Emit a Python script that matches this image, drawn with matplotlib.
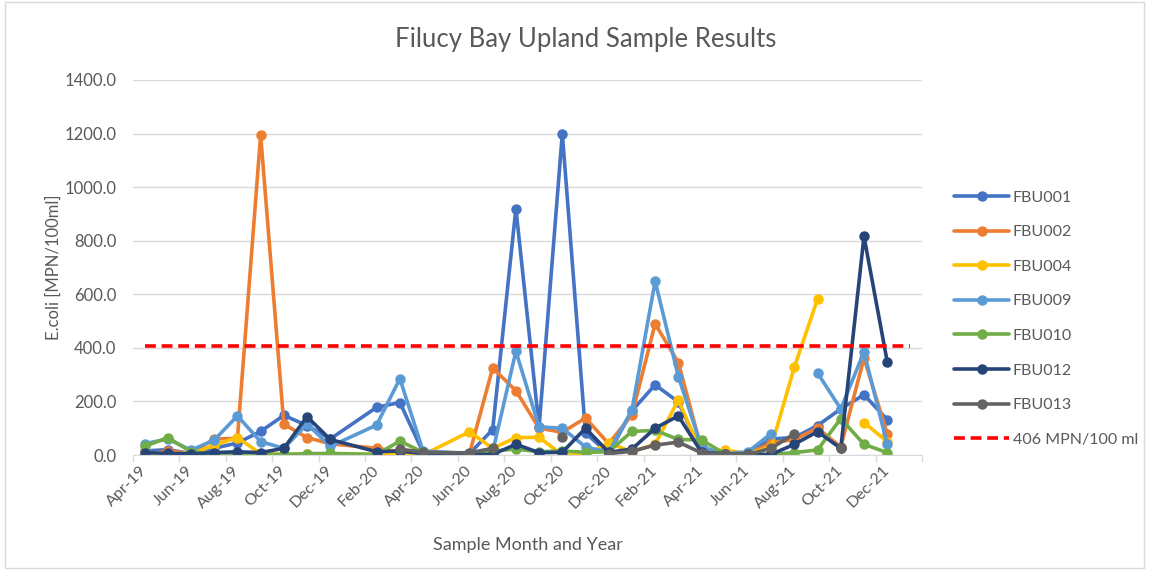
import matplotlib
matplotlib.use("Agg")
import matplotlib.pyplot as plt
import matplotlib.transforms as mtransforms
import numpy as np
import pandas as pd
from matplotlib.patches import Rectangle

nan = np.nan

# sampled months (Jan-20 and May-20 had no samples)
months = ["Apr-19", "May-19", "Jun-19", "Jul-19", "Aug-19", "Sep-19", "Oct-19", "Nov-19", "Dec-19",
          "Feb-20", "Mar-20", "Apr-20",
          "Jun-20", "Jul-20", "Aug-20", "Sep-20", "Oct-20", "Nov-20", "Dec-20",
          "Jan-21", "Feb-21", "Mar-21", "Apr-21", "May-21", "Jun-21", "Jul-21", "Aug-21",
          "Sep-21", "Oct-21", "Nov-21", "Dec-21"]

fbu001 = [15, 20, 5, 25, 45, 88, 148, 110, 60,
          178, 196, 10,
          5, 95, 920, 105, 1200, 82, 5,
          165, 262, 198, 8, 5, 5, 60, 65, 110, 172, 225, 132]
fbu002 = [0, 15, 5, 60, 62, 1195, 115, 65, 42,
          25, 12, 5,
          5, 325, 240, 100, 85, 138, 42,
          150, 490, 345, 20, 10, 5, 45, 58, 100, 30, 362, 80]
fbu004 = [10, 5, 3, 37, 65, 5, 3, 3, 3,
          3, 5, 0,
          87, 25, 65, 66, 0, 0, 45,
          12, 40, 206, 5, 19, 5, 30, 328, 583, nan, 121, 50]
fbu009 = [42, 60, 18, 56, 146, 50, 25, 116, 32,
          112, 285, 15,
          5, 12, 387, 105, 100, 30, 10,
          168, 649, 293, 30, 5, 12, 80, nan, 306, 172, 385, 40]
fbu010 = [32, 65, 12, 5, 5, 2, 2, 5, 6,
          2, 52, 10,
          5, 15, 22, 12, 15, 10, 12,
          88, 92, 58, 56, 5, 2, 2, 9, 19, 136, 40, 9]
fbu012 = [9, 6, 4, 9, 12, 9, 25, 143, 58,
          12, 15, 5,
          2, 2, 40, 9, 10, 100, 10,
          22, 100, 146, 10, 5, 2, 2, 40, 87, 25, 816, 349]
fbu013 = [nan, nan, nan, nan, nan, nan, nan, nan, nan,
          nan, 22, 10,
          8, 25, nan, nan, 66, nan, 5,
          14, 37, 48, 8, 5, 2, 25, 79, nan, 25, nan, nan]

series = [("FBU001", fbu001, "#4472C4"),
          ("FBU002", fbu002, "#ED7D31"),
          ("FBU004", fbu004, "#FFC000"),
          ("FBU009", fbu009, "#5B9BD5"),
          ("FBU010", fbu010, "#70AD47"),
          ("FBU012", fbu012, "#264478"),
          ("FBU013", fbu013, "#636363")]

limit = 406
axis_start = "Apr-19"
axis_end = "Jan-22"

def month_pos(labels):
    d = pd.to_datetime(labels, format="%b-%y")
    return (d.year - 2019) * 12 + d.month - 4

x = month_pos(months)
x_end = month_pos([axis_end])[0]
all_months = pd.date_range(pd.to_datetime(axis_start, format="%b-%y"),
                           pd.to_datetime(axis_end, format="%b-%y"), freq="MS")
all_labels = [d.strftime("%b-%y") for d in all_months]

plt.rcParams['font.family'] = ['Lato', 'DejaVu Sans']
grey = "#595959"

fig = plt.figure(figsize=(11.49, 5.71), dpi=100)
ax = fig.add_axes([133/1149, 1 - 455/571, 789/1149, 375/571])

for name, vals, col in series:
    ax.plot(x, vals, color=col, lw=2.6, marker="o", ms=6.5, label=name,
            solid_capstyle="round", solid_joinstyle="round")

ax.plot([0, x_end], [limit, limit], color="#FF0000", lw=2.6, dashes=(3, 1.6),
        label="406 MPN/100 ml")

ax.set_ylim(0, 1400)
ax.set_xlim(-0.5, x_end + 0.5)
ax.set_yticks(np.arange(0, 1401, 200))
ax.set_yticklabels([f"{v:.1f}" for v in np.arange(0, 1401, 200)])
ax.grid(axis="y", color="#D9D9D9", lw=1)
ax.set_axisbelow(True)

ax.set_xticks(np.arange(0, x_end + 1, 2))
ax.set_xticklabels(all_labels[::2], rotation=45, ha="right", va="top",
                   rotation_mode="anchor")
ax.set_xticks(np.arange(-0.5, x_end + 1, 2), minor=True)
ax.tick_params(axis="x", which="major", length=0, pad=6, labelsize=11.5, labelcolor=grey)
ax.tick_params(axis="x", which="minor", length=5, color="#D9D9D9", width=1)
ax.tick_params(axis="y", length=0, pad=12, labelsize=12, labelcolor=grey)

shift = mtransforms.ScaledTranslation(-5/100, 0, fig.dpi_scale_trans)
for lab in ax.get_xticklabels():
    lab.set_transform(lab.get_transform() + shift)

for s in ["top", "right", "left"]:
    ax.spines[s].set_visible(False)
ax.spines["bottom"].set_color("#D9D9D9")

ax.set_ylabel("E.coli [MPN/100ml]", fontsize=12, color=grey, labelpad=2)
ax.set_xlabel("Sample Month and Year", fontsize=13, color=grey, labelpad=19)
fig.text(586/1149, 1 - 40/571, "Filucy Bay Upland Sample Results",
         fontsize=18.5, color=grey, ha="center", va="center")

ax.legend(loc="upper left", bbox_to_anchor=(940/1149, 1 - 176/571),
          bbox_transform=fig.transFigure, frameon=False, fontsize=11.5,
          labelspacing=1.28, handlelength=3.4, handletextpad=0.25,
          labelcolor=grey)

fig.patches.append(Rectangle((0.004, 0.006), 0.992, 0.99, transform=fig.transFigure,
                             fill=False, edgecolor="#D9D9D9", lw=1))

fig.savefig("out.png", dpi=100)
